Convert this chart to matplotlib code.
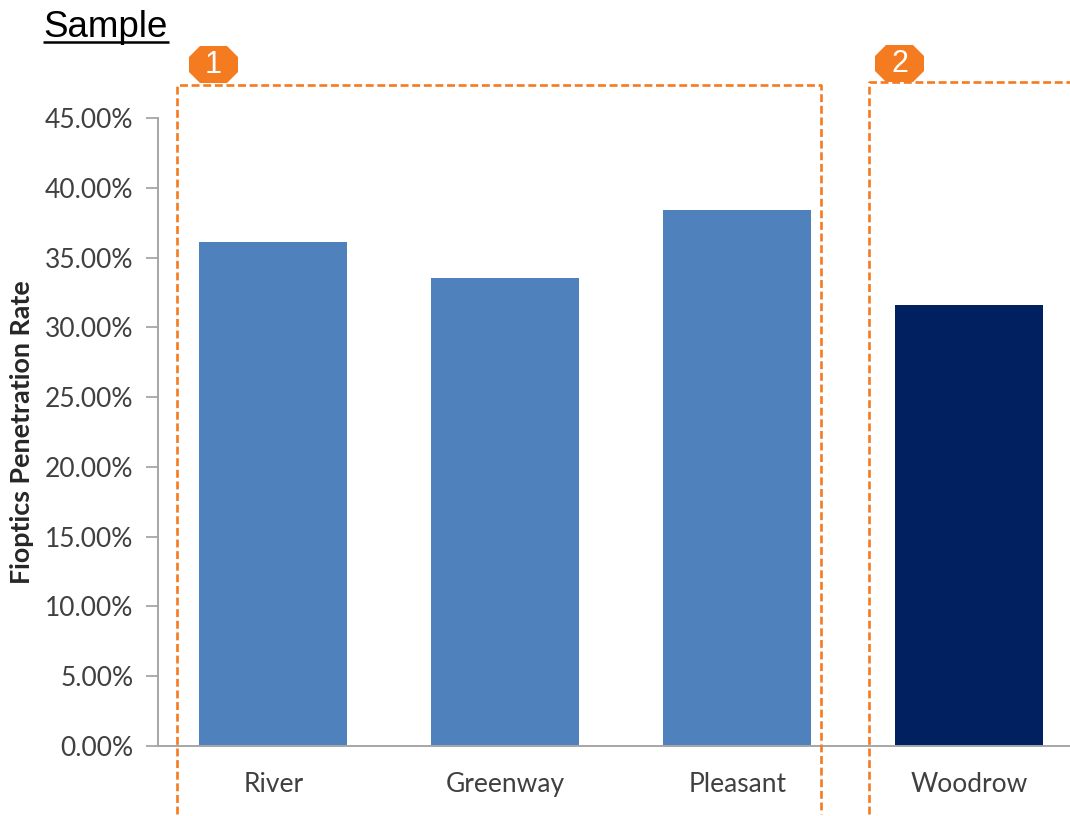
import matplotlib
matplotlib.use("Agg")
import matplotlib.pyplot as plt
from matplotlib.patches import Polygon

categories = ["River", "Greenway", "Pleasant", "Woodrow"]
rates = [36.1, 33.5, 38.4, 31.6]
bar_colors = ["#4F81BD", "#4F81BD", "#4F81BD", "#002060"]
y_ticks = [0, 5, 10, 15, 20, 25, 30, 35, 40, 45]
y_label = "Fioptics Penetration Rate"
title = "Sample"

W, H = 1070, 816
ORANGE = "#F47B20"
GREY = "#A6A6A6"
TEXT = "#404040"

fig = plt.figure(figsize=(W / 100, H / 100), dpi=100, facecolor="white")

# Plot area runs off the right edge, so the last category slot is cut short
ax = fig.add_axes([157.5 / W, 1 - 746 / H, (W - 157.5) / W, (746 - 118) / H])
ax.bar(range(len(categories)), rates, width=0.638, color=bar_colors, zorder=2)
ax.set_xlim(-0.5, 3.435)
ax.set_ylim(0, 45)
ax.set_yticks(y_ticks)
ax.set_yticklabels([f"{v:.2f}%" for v in y_ticks], fontname="Lato", fontsize=19, color=TEXT)
ax.set_xticks(range(len(categories)))
ax.set_xticklabels(categories, fontname="Lato", fontsize=19, color=TEXT)
ax.tick_params(axis="y", length=9, width=1.3, color=GREY, pad=8.5)
ax.tick_params(axis="x", length=0, pad=18.5)
for side in ("top", "right"):
    ax.spines[side].set_visible(False)
for side in ("left", "bottom"):
    ax.spines[side].set_color(GREY)
    ax.spines[side].set_linewidth(1.4)
ax.patch.set_alpha(0)

fig.text(22 / W, 1 - 432 / H, y_label, rotation=90, ha="center", va="center",
         fontname="Lato", fontweight="bold", fontsize=19.4, color="#262626")

# Overlay in pixel coordinates for the title, group frames and numbered badges
ov = fig.add_axes([0, 0, 1, 1], zorder=5)
ov.set_xlim(0, W)
ov.set_ylim(H, 0)
ov.axis("off")

ov.text(43, 37, title, fontname="Liberation Sans", fontsize=26.5, color="black",
        ha="left", va="baseline")
ov.plot([43, 169], [41.5, 41.5], color="black", lw=1.8, solid_capstyle="butt")


def badge(cx, cy, label):
    rx, ry, cut = 24.5, 18.5, 11
    pts = [(cx - rx + cut, cy - ry), (cx + rx - cut, cy - ry), (cx + rx, cy - ry + cut),
           (cx + rx, cy + ry - cut), (cx + rx - cut, cy + ry), (cx - rx + cut, cy + ry),
           (cx - rx, cy + ry - cut), (cx - rx, cy - ry + cut)]
    ov.add_patch(Polygon(pts, closed=True, facecolor=ORANGE, edgecolor="none", zorder=3))
    ov.text(cx, cy + 0.5, label, color="white", fontname="Liberation Sans", fontsize=22,
            ha="center", va="center", zorder=4)


badge(213.5, 64.5, "1")
badge(899.5, 63.5, "2")

# Dashed frames around the two groups, open at the bottom
dash = dict(color=ORANGE, linewidth=1.9, linestyle=(0, (3, 1.4)), zorder=5)
ov.plot([177, 177, 821, 821], [814, 85, 85, 814], **dash)
ov.plot([869, 869, 1075], [814, 82, 82], **dash)

fig.savefig("out.png", dpi=100, facecolor="white")
